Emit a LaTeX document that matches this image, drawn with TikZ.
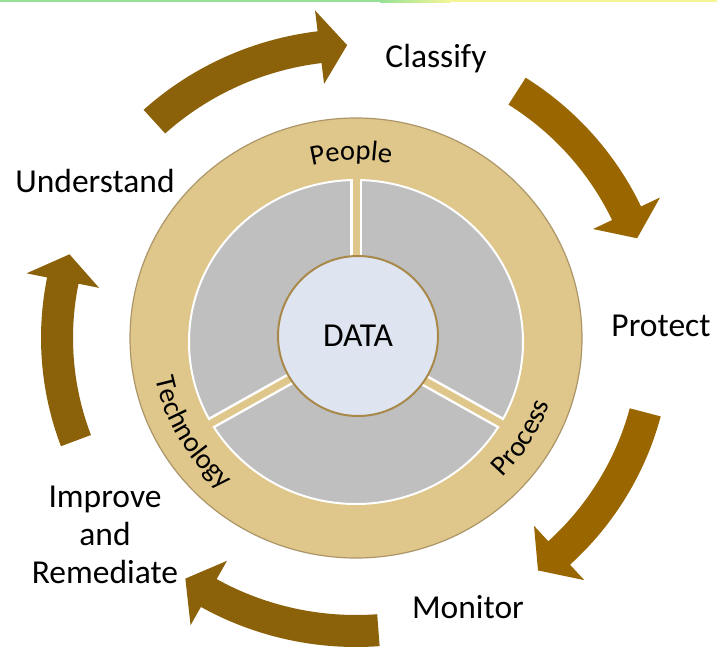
\documentclass[tikz,border=0pt]{standalone}
\usepackage{fontspec}
\setmainfont{Carlito}
\usepackage{tikz}
\usetikzlibrary{positioning,decorations.text}
\definecolor{ringclr}{RGB}{223,198,138}
\definecolor{rimclr}{RGB}{172,150,104}
\definecolor{segclr}{RGB}{191,191,191}
\definecolor{coreclr}{RGB}{223,229,240}
\definecolor{edgeclr}{RGB}{168,137,74}
\definecolor{arrowclr}{RGB}{139,97,9}
\definecolor{arrowlt}{RGB}{153,102,0}
\definecolor{topclr}{RGB}{150,225,150}
\definecolor{endclr}{RGB}{245,245,150}
\newcommand\ringfont{\fontsize{28.5}{30}\selectfont}
% clockwise arc arrow: tail angle, head angle, colour
\newcommand\cyclearrow[3]{%
  \fill[#3] (#1:315 and 309)
    arc[start angle=#1, end angle=#2, x radius=315, y radius=309]
    -- (#2:336 and 330) -- ({#2-5.3}:299 and 293) -- (#2:262 and 256)
    -- (#2:283 and 277)
    arc[start angle=#2, end angle=#1, x radius=283, y radius=277] -- cycle;
}
\tikzset{ %
  ,stage/.style={inner sep=0, font=\fontsize{33.5}{38}\selectfont, align=center}
  ,core/.style={draw=edgeclr, line width=2pt, fill=coreclr, circle, inner sep=0, minimum size=160pt, font=\fontsize{33.5}{34}\selectfont}
  ,ringtext/.style={decorate, decoration={text along path, text align=center, text={|\ringfont|#1}}}
}

\begin{document}
\begin{tikzpicture}[x=1pt, y=1pt]
  \useasboundingbox (0,0) rectangle (717,-648);
  % rule along the top edge
  \fill[topclr] (0,0) rectangle (380,-2);
  \shade[left color=topclr, right color=endclr] (380,0) rectangle (450,-2);
  \fill[endclr] (450,0) rectangle (717,-2);
  \begin{scope}[shift={(356,-338)}]
    % cycle arrows
    \cyclearrow{132.4}{97}{arrowclr}
    \cyclearrow{57.4}{25.2}{arrowlt}
    \cyclearrow{-14.7}{-47.2}{arrowlt}
    \cyclearrow{-85.7}{-119.5}{arrowclr}
    \cyclearrow{200.5}{168.7}{arrowclr}
    % outer band
    \filldraw[fill=ringclr, draw=rimclr, line width=1.2pt] (0,0) ellipse [x radius=226, y radius=220];
  \end{scope}
  \begin{scope}[shift={(356,-342)}]
    \filldraw[fill=segclr, draw=white, line width=2pt] (0,0) ellipse [x radius=167, y radius=162];
    % gaps between the three segments
    \foreach \a in {90,-30,210} {
      \draw[white, line width=12pt] (0,0) -- (\a:167 and 162);
      \draw[ringclr, line width=7pt] (0,0) -- (\a:172 and 167);
    }
  \end{scope}
  \node[core] (data) at (358,-336) {DATA};
  % labels on the band
  \begin{scope}[shift={(356,-338)}]
    \path[ringtext=People] (131.5:183 and 178) arc[start angle=131.5, end angle=51.5, x radius=183, y radius=178];
    \path[ringtext=Technology] (180.4:205 and 200) arc[start angle=180.4, end angle=240.4, x radius=205, y radius=200];
    \path[ringtext=Process] (-61.6:205 and 200) arc[start angle=-61.6, end angle=-1.6, x radius=205, y radius=200];
  \end{scope}
  % stages
  \node[stage, anchor=base] (classify) at (436,-67) {Classify};
  \node[stage, anchor=base] (protect) at (661,-336) {Protect};
  \node[stage, anchor=base] (monitor) at (468,-618) {Monitor};
  \node[stage, anchor=north] (improve) at (105,-486) {Improve\\and\\Remediate};
  \node[stage, anchor=base] (understand) at (95,-192) {Understand};
\end{tikzpicture}
\end{document}
